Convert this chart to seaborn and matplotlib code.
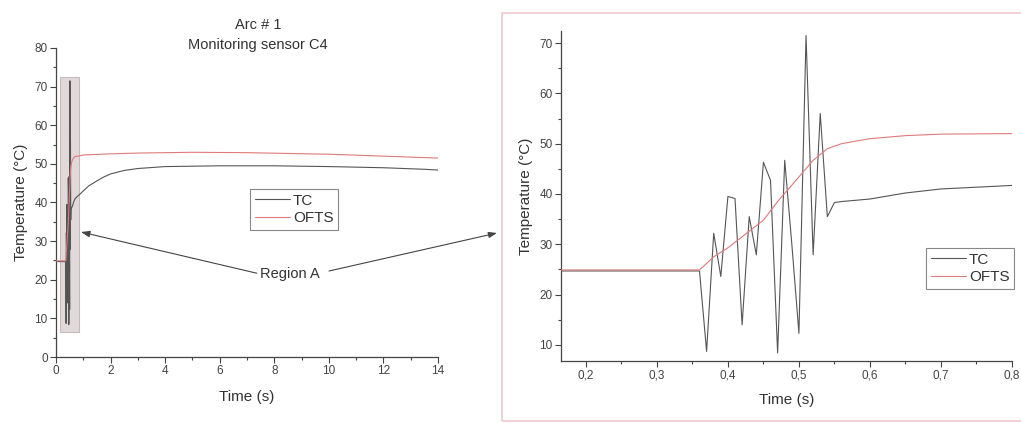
import matplotlib
matplotlib.use("Agg")
import matplotlib.pyplot as plt
import matplotlib.patches as mpatches
from matplotlib.ticker import MultipleLocator, FuncFormatter
import seaborn as sns
import pandas as pd

# ---------------- data ----------------
tc_time = [0.0, 0.36, 0.37, 0.38, 0.39, 0.40, 0.41, 0.42, 0.43, 0.44, 0.45, 0.46,
           0.47, 0.48, 0.49, 0.50, 0.51, 0.52, 0.53, 0.54, 0.55, 0.56, 0.60, 0.65,
           0.70, 0.80, 0.90, 1.0, 1.2, 1.5, 1.75, 2.0, 2.5, 3.0, 4.0, 6.0, 8.0,
           10.0, 12.0, 13.5, 14.0]
tc_temp = [24.7, 24.7, 8.7, 32.2, 23.6, 39.5, 39.1, 14.0, 35.5, 27.9, 46.3, 42.7,
           8.4, 46.7, 30.0, 12.3, 71.5, 27.9, 56.0, 35.5, 38.3, 38.5, 39.0, 40.2,
           41.0, 41.7, 42.3, 43.0, 44.3, 45.6, 46.6, 47.4, 48.3, 48.8, 49.3, 49.5,
           49.5, 49.3, 49.0, 48.6, 48.4]

ofts_time = [0.0, 0.36, 0.38, 0.40, 0.45, 0.47, 0.50, 0.52, 0.54, 0.56, 0.60, 0.65,
             0.70, 0.80, 1.0, 2.0, 3.0, 5.0, 7.0, 10.0, 12.0, 14.0]
ofts_temp = [24.9, 24.9, 27.5, 29.3, 34.8, 38.5, 43.4, 46.7, 49.0, 50.0, 51.0, 51.6,
             51.9, 52.0, 52.3, 52.6, 52.8, 53.0, 52.9, 52.5, 52.0, 51.5]

series_names = ["TC", "OFTS"]
title_lines = ["Arc # 1", "Monitoring sensor C4"]
x_label = "Time (s)"
y_label = "Temperature (°C)"
region_label = "Region A"

# ---------------- style ----------------
sns.set_style("ticks")
plt.rcParams["font.family"] = ["Liberation Sans", "DejaVu Sans"]
TXT = "#333333"
plt.rcParams.update({
    "text.color": TXT, "axes.labelcolor": TXT,
    "xtick.color": "#444444", "ytick.color": "#444444",
    "axes.edgecolor": "#444444",
    "xtick.direction": "out", "ytick.direction": "out",
})
TC_COLOR = "#555555"
OFTS_COLOR = "#e07a7a"

df_tc = pd.DataFrame({"time": tc_time, "temp": tc_temp})
df_ofts = pd.DataFrame({"time": ofts_time, "temp": ofts_temp})

W, H = 1021, 423
fig = plt.figure(figsize=(W / 100, H / 100), dpi=100)

def fig_box(x0, x1, ytop, ybot):
    return [x0 / W, 1 - ybot / H, (x1 - x0) / W, (ybot - ytop) / H]

ax1 = fig.add_axes(fig_box(56, 438, 48, 357))
ax2 = fig.add_axes(fig_box(561, 1012, 31, 361))

for ax in (ax1, ax2):
    sns.lineplot(data=df_tc, x="time", y="temp", ax=ax, color=TC_COLOR,
                 linewidth=0.8, estimator=None, sort=False, label=series_names[0], zorder=3)
    sns.lineplot(data=df_ofts, x="time", y="temp", ax=ax, color=OFTS_COLOR,
                 linewidth=0.8, estimator=None, sort=False, label=series_names[1], zorder=4)
    sns.despine(ax=ax)
    ax.set_xlabel(x_label, fontsize=11)
    ax.set_ylabel(y_label, fontsize=11)
    ax.tick_params(which="major", length=4, width=0.8, labelsize=8.5, pad=2)
    ax.tick_params(which="minor", length=2.5, width=0.8)
    for s in ("left", "bottom"):
        ax.spines[s].set_linewidth(0.9)

# left panel
ax1.set_xlim(0, 14)
ax1.set_ylim(0, 80)
ax1.xaxis.set_major_locator(MultipleLocator(2))
ax1.xaxis.set_minor_locator(MultipleLocator(1))
ax1.yaxis.set_major_locator(MultipleLocator(10))
ax1.yaxis.set_minor_locator(MultipleLocator(5))
ax1.add_patch(mpatches.Rectangle((0.15, 6.5), 0.69, 66.0, facecolor="#e0d8d9",
                                 edgecolor="#c6babc", linewidth=0.8, zorder=2))
ax1.xaxis.set_label_coords(0.5, -0.107)
ax1.yaxis.set_label_coords(-0.074, 0.5)

fig.text(258 / W, 1 - 25 / H, title_lines[0], ha="center", va="center", fontsize=10.5, color=TXT)
fig.text(258 / W, 1 - 45 / H, title_lines[1], ha="center", va="center", fontsize=10.5, color=TXT)

leg_kw = dict(loc="upper left", bbox_transform=fig.transFigure, borderaxespad=0,
              fancybox=False, framealpha=1, edgecolor="#888888", fontsize=11,
              handlelength=2.3, handletextpad=0.2, borderpad=0.3, labelspacing=0.25)
leg1 = ax1.legend(bbox_to_anchor=(250 / W, 1 - 189 / H), **leg_kw)
leg1.get_frame().set_linewidth(0.8)

# right panel
ax2.set_xlim(0.165, 0.8)
ax2.set_ylim(6.8, 72.4)
ax2.xaxis.set_major_locator(MultipleLocator(0.1))
ax2.xaxis.set_minor_locator(MultipleLocator(0.05))
ax2.yaxis.set_major_locator(MultipleLocator(10))
ax2.yaxis.set_minor_locator(MultipleLocator(5))
ax2.xaxis.set_major_formatter(FuncFormatter(lambda v, p: f"{v:.1f}".replace(".", ",")))
ax2.xaxis.set_label_coords(0.5, -0.097)
ax2.yaxis.set_label_coords(-0.062, 0.5)
leg2 = ax2.legend(bbox_to_anchor=(926 / W, 1 - 248 / H), **leg_kw)
leg2.get_frame().set_linewidth(0.8)

# pink frame around right panel
fig.add_artist(mpatches.Rectangle((502 / W, 2 / H), 600 / W, (421 - 13) / H,
                                  transform=fig.transFigure, fill=False,
                                  edgecolor="#ecc9ce", linewidth=1.2))

# Region A annotation
arrow_kw = dict(arrowstyle="-|>,head_length=0.5,head_width=0.18", color="#444444",
                linewidth=0.8, shrinkA=0, shrinkB=0)
ax1.annotate(region_label, xy=(81, H - 232), xycoords="figure pixels",
             xytext=(290, H - 274), textcoords="figure pixels",
             ha="center", va="center", fontsize=10.5, color=TXT,
             arrowprops=dict(arrow_kw, relpos=(0, 0.5)), annotation_clip=False)
ax1.annotate("", xy=(497, H - 233), xycoords="figure pixels",
             xytext=(329, H - 271), textcoords="figure pixels",
             arrowprops=arrow_kw, annotation_clip=False)

fig.savefig("out.png", dpi=100)
